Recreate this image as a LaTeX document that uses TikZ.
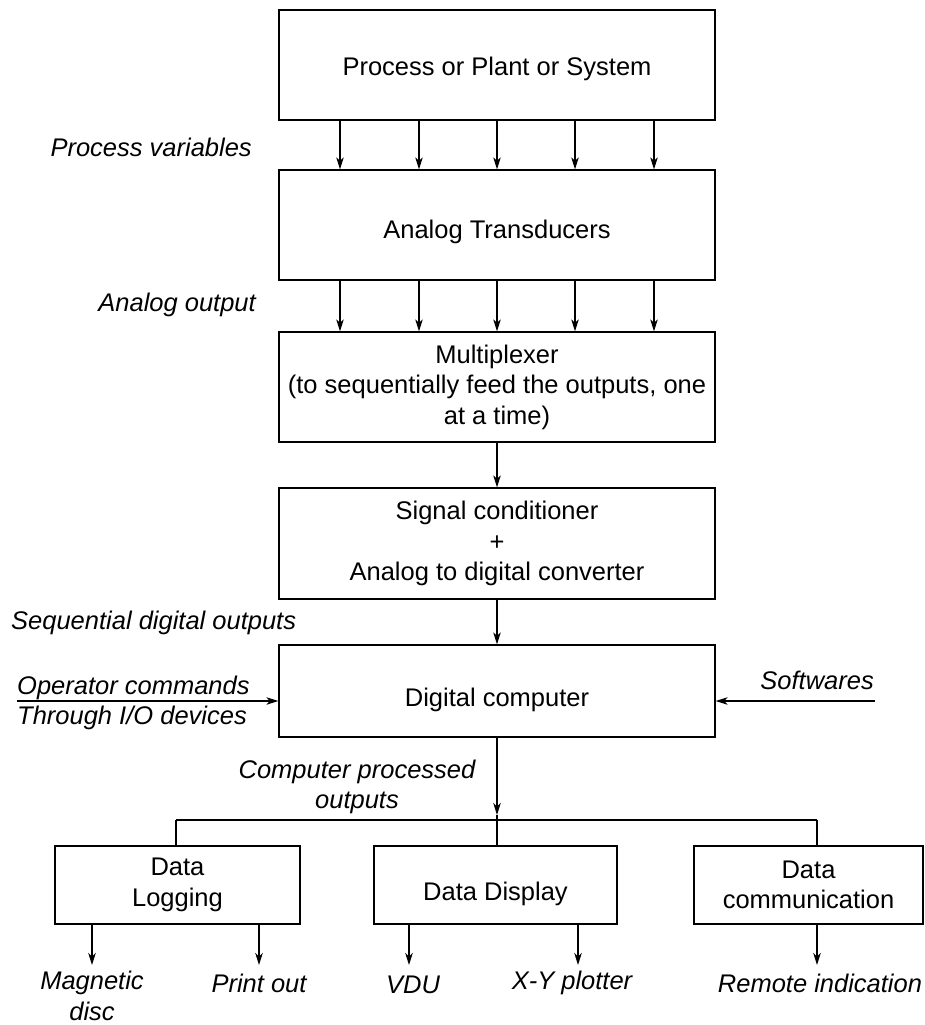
\documentclass[tikz,border=0pt]{standalone}
\usepackage{fontspec}
\setmainfont{Liberation Sans}
\usetikzlibrary{arrows.meta}
\begin{document}
\begin{tikzpicture}[x=1pt,y=-1pt,
  every node/.style={font=\fontsize{25.5}{30.5}\selectfont, inner sep=0pt},
  blk/.style={draw, line width=1.3pt, rectangle, align=center},
  lowered/.style={text height=#1, text depth=0pt},
  lbl/.style={font=\fontsize{25.5}{30.5}\selectfont\itshape, align=center},
  arr/.style={line width=1.2pt, -{Stealth[length=12pt,width=7.5pt,inset=3.5pt]}},
  ln/.style={line width=1.2pt}]
\useasboundingbox (0,0) rectangle (925,1025);
% main blocks
\node[blk, lowered=22pt, minimum width=436pt, minimum height=110pt] (plant) at (497,65) {Process or Plant or System};
\node[blk, lowered=26pt, minimum width=436pt, minimum height=110pt] (trans) at (497,225) {Analog Transducers};
\node[blk, minimum width=436pt, minimum height=110pt] (mux) at (497,387) {Multiplexer\\(to sequentially feed the outputs, one\\at a time)};
\node[blk, minimum width=436pt, minimum height=111pt] (adc) at (497,543.5) {Signal conditioner\\+\\Analog to digital converter};
\node[blk, lowered=30pt, minimum width=436pt, minimum height=92pt] (comp) at (497,691) {Digital computer};
% output blocks
\node[blk, minimum width=245pt, minimum height=78pt] (dl) at (177.5,885) {Data\\Logging};
\node[blk, lowered=31pt, minimum width=243pt, minimum height=78pt] (dd) at (495.5,885) {Data Display};
\node[blk, minimum width=229pt, minimum height=78pt] (dc) at (808.5,885) {Data\\communication};
% labels
\node[lbl, anchor=east] (lpv) at (252,147) {Process variables};
\node[lbl, anchor=east] (lao) at (256,305) {Analog output};
\node[lbl, anchor=west] (lsd) at (11,623) {Sequential digital outputs};
\node[lbl, anchor=west] (lop) at (17,688) {Operator commands};
\node[lbl, anchor=west] (lio) at (17,718) {Through I/O devices};
\node[lbl, anchor=east] (lsw) at (874,680) {Softwares};
\node[lbl] (lcp) at (357,787) {Computer processed\\outputs};
\node[lbl] (lmd) at (92,996) {Magnetic\\disc};
\node[lbl] (lpo) at (259,983) {Print out};
\node[lbl] (lvdu) at (413,985) {VDU};
\node[lbl] (lxy) at (572,983) {X-Y plotter};
\node[lbl] (lri) at (820,983) {Remote indication};
% multiple arrows
\foreach \x [count=\i] in {340,419,497,575,654} {
  \coordinate (c\i) at (\x,0);
  \draw[arr] (plant.south -| c\i) -- (trans.north -| c\i);
  \draw[arr] (trans.south -| c\i) -- (mux.north -| c\i);
}
\draw[arr] (mux.south) -- (adc.north);
\draw[arr] (adc.south) -- (comp.north);
% side inputs
\coordinate (opstart) at (17,701);
\coordinate (swstart) at (875,701);
\draw[arr] (opstart) -- (opstart -| comp.west);
\draw[arr] (swstart) -- (swstart -| comp.east);
% branch
\coordinate (jt) at (497,815);
\coordinate (j) at (497,820);
\coordinate (b1) at (176,820);
\coordinate (b3) at (817,820);
\draw[arr] (comp.south) -- (jt);
\draw[ln] (jt) -- (j);
\draw[ln] (b1) -- (b3);
\draw[ln] (b1) -- (b1 |- dl.north);
\draw[ln] (j) -- (j |- dd.north);
\draw[ln] (b3) -- (b3 |- dc.north);
% output arrows
\coordinate (o1) at (92,0);
\coordinate (o2) at (259,0);
\coordinate (o3) at (409,0);
\coordinate (o4) at (578,0);
\coordinate (o5) at (817,0);
\coordinate (oend) at (0,965);
\draw[arr] (dl.south -| o1) -- (oend -| o1);
\draw[arr] (dl.south -| o2) -- (oend -| o2);
\draw[arr] (dd.south -| o3) -- (oend -| o3);
\draw[arr] (dd.south -| o4) -- (oend -| o4);
\draw[arr] (dc.south -| o5) -- (oend -| o5);
\end{tikzpicture}
\end{document}
